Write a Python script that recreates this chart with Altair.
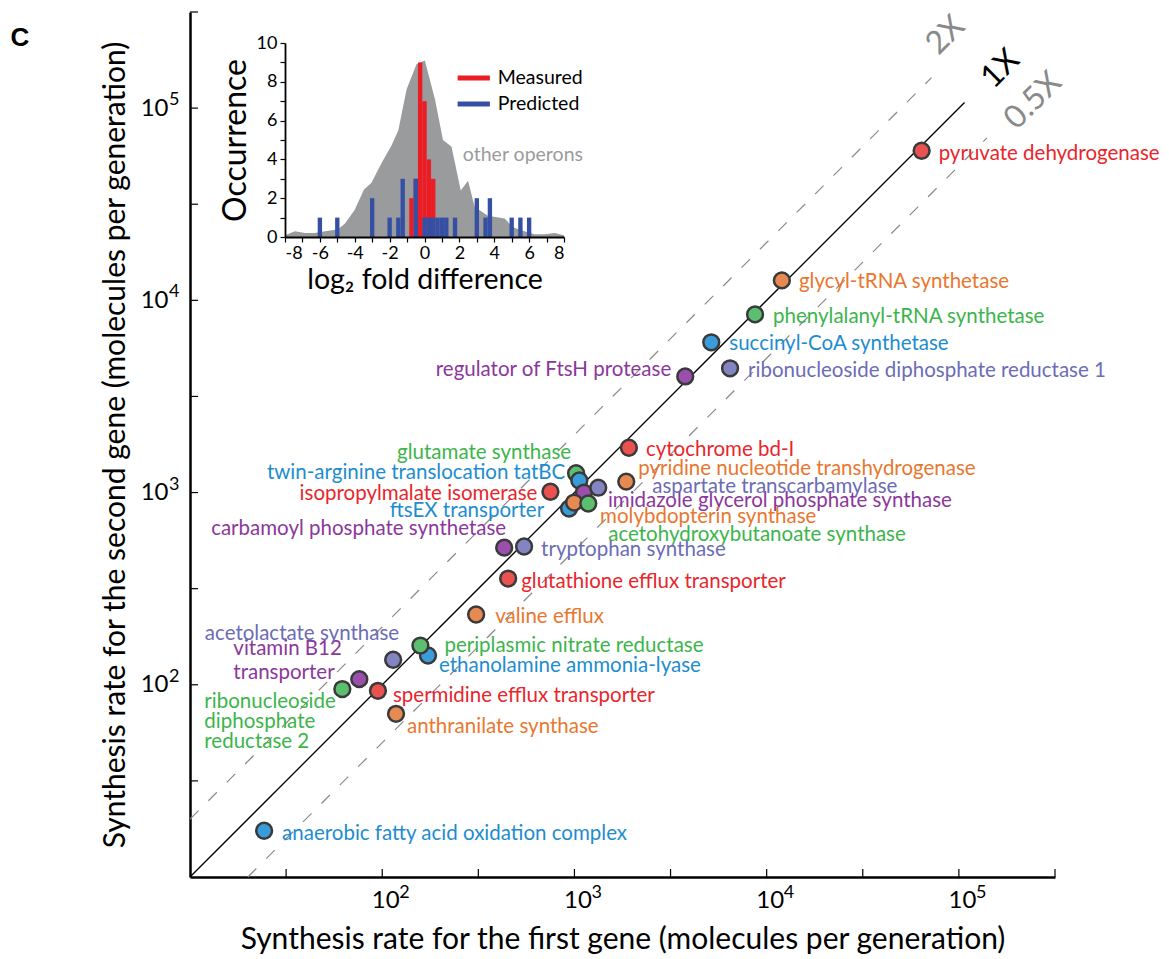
import altair as alt
import pandas as pd

# ---------------- main scatter data ----------------
operons = [
    "pyruvate dehydrogenase", "glycyl-tRNA synthetase", "phenylalanyl-tRNA synthetase",
    "succinyl-CoA synthetase", "regulator of FtsH protease", "ribonucleoside diphosphate reductase 1",
    "cytochrome bd-I", "glutamate synthase", "twin-arginine translocation tatBC",
    "isopropylmalate isomerase", "pyridine nucleotide transhydrogenase",
    "imidazole glycerol phosphate synthase", "aspartate transcarbamylase",
    "ftsEX transporter", "molybdopterin synthase", "acetohydroxybutanoate synthase",
    "carbamoyl phosphate synthetase", "tryptophan synthase", "glutathione efflux transporter",
    "valine efflux", "acetolactate synthase", "ethanolamine ammonia-lyase",
    "periplasmic nitrate reductase", "ribonucleoside diphosphate reductase 2",
    "vitamin B12 transporter", "spermidine efflux transporter", "anthranilate synthase",
    "anaerobic fatty acid oxidation complex",
]
first_gene = [64000, 12000, 8700, 5150, 3770, 6450, 1920, 1020, 1060, 750, 1860, 1120, 1330,
              938, 996, 1180, 431, 547, 452, 308, 114, 173, 158, 62, 76, 95, 118, 24.3]
second_gene = [60000, 12700, 8450, 6050, 4020, 4430, 1710, 1260, 1155, 1010, 1140, 1000, 1060,
               826, 887, 877, 517, 524, 357, 232, 135, 142, 160, 95, 107, 93, 70.6, 17.4]
colour_group = ["red", "orange", "green", "blue", "purple", "lavender", "red", "green", "blue",
                "red", "orange", "purple", "lavender", "blue", "orange", "green", "purple",
                "lavender", "red", "orange", "lavender", "blue", "green", "green", "purple",
                "red", "orange", "blue"]
label_lines = [
    ["pyruvate dehydrogenase"], ["glycyl-tRNA synthetase"], ["phenylalanyl-tRNA synthetase"],
    ["succinyl-CoA synthetase"], ["regulator of FtsH protease"],
    ["ribonucleoside diphosphate reductase 1"], ["cytochrome bd-I"], ["glutamate synthase"],
    ["twin-arginine translocation tatBC"], ["isopropylmalate isomerase"],
    ["pyridine nucleotide transhydrogenase"], ["imidazole glycerol phosphate synthase"],
    ["aspartate transcarbamylase"], ["ftsEX transporter"], ["molybdopterin synthase"],
    ["acetohydroxybutanoate synthase"], ["carbamoyl phosphate synthetase"],
    ["tryptophan synthase"], ["glutathione efflux transporter"], ["valine efflux"],
    ["acetolactate synthase"], ["ethanolamine ammonia-lyase"], ["periplasmic nitrate reductase"],
    ["ribonucleoside", "diphosphate", "reductase 2"], ["vitamin B12", "transporter"],
    ["spermidine efflux transporter"], ["anthranilate synthase"],
    ["anaerobic fatty acid oxidation complex"],
]

# label layout (pixel offsets from the point, alignment)
label_align = ["left", "left", "left", "left", "right", "left", "left", "right", "right", "right",
               "left", "left", "left", "right", "left", "left", "right", "left", "left", "left",
               "right", "left", "left", "left", "left", "left", "left", "left"]
label_dx = [17, 17, 18, 18, -14, 18, 17, -5, -14, -13, 12, 24, 54, -25, 26, 20, 2, 17, 13, 19,
            6, 11, 24, -138, -126, 15, 11, 18]
label_dy = [[3], [2], [3], [2], [-6], [3], [2], [-20], [-8], [2], [-13], [8], [-1], [2], [14],
            [31], [-19], [3], [3], [2], [-26], [10], [0], [13, 33, 53], [-30, -6], [5], [13], [3]]

# reference lines (fold ratios)
ref_line = ["1X", "1X", "2X", "2X", "0.5X", "0.5X"]
ref_x = [10, 107000, 10, 72000, 20, 140000]
ref_y = [10, 107000, 20, 144000, 10, 70000]
ref_label = ["2X", "1X", "0.5X"]
ref_label_x = [10 ** 4.93, 10 ** 5.215, 10 ** 5.385]
ref_label_y = [10 ** 5.38, 10 ** 5.205, 10 ** 5.04]

axis_ticks = [10 ** 1.5, 100, 10 ** 2.5, 1000, 10 ** 3.5, 10000, 10 ** 4.5, 100000, 10 ** 5.5]
decade_values = [100, 1000, 10000, 100000]
decade_exp = ["2", "3", "4", "5"]

# ---------------- inset histogram data ----------------
other_x = [-8, -7.43, -6.85, -6.3, -5.7, -4.95, -4.56, -4.0, -3.47, -3.04, -2.47, -1.9, -1.5,
           -1.03, -0.46, 0.02, 0.6, 1.06, 1.55, 2.08, 2.5, 2.88, 3.64, 4.6, 5.07, 5.55, 6.3,
           6.9, 7.46, 8]
other_occ = [0.09, 0.3, 0.2, 0.2, 0.3, 0.4, 0.7, 1.4, 2.45, 2.8, 3.8, 4.7, 5.5, 7.6, 8.9, 9.1,
             7.1, 5.0, 4.65, 2.4, 2.9, 1.55, 1.1, 0.95, 0.5, 0.35, 0.14, 0.14, 0.2, 0.09]
measured_lo = [-0.875, -0.625, -0.375, -0.125, 0.125, 0.375]
measured_hi = [-0.625, -0.375, -0.125, 0.125, 0.375, 0.625]
measured_n = [2, 3, 9, 7, 4, 3]
predicted_lo = [-6.125, -5.125, -3.125, -2.125, -1.625, -1.375, -0.625, -0.125, 0.125, 0.375,
                0.625, 0.875, 1.125, 1.625, 2.875, 3.375, 3.625, 4.875, 5.375, 5.875]
predicted_hi = [-5.875, -4.875, -2.875, -1.875, -1.375, -1.125, -0.375, 0.125, 0.375, 0.625,
                0.875, 1.125, 1.375, 1.875, 3.125, 3.625, 3.875, 5.125, 5.625, 6.125]
predicted_n = [1, 1, 2, 1, 1, 3, 3, 1, 1, 1, 1, 1, 1, 1, 2, 1, 2, 1, 1, 1]
legend_names = ["Measured", "Predicted"]
legend_y = [8.2, 6.85]

# ---------------- styling ----------------
W, H = 865, 865
DEC = W / 4.5  # pixels per decade
FONT = "Lato"
groups = ["red", "orange", "green", "blue", "lavender", "purple"]
text_colors = ["#E8262C", "#E9772F", "#3CB54B", "#1D8DCF", "#6C6CB6", "#8C379C"]
fill_colors = ["#E9524F", "#E68A52", "#5CBE6F", "#3A9DDA", "#8584C3", "#9B4FAC"]

pts = pd.DataFrame({"name": operons, "x": first_gene, "y": second_gene, "grp": colour_group,
                    "order": list(range(len(operons)))})

rows = []
for i, lines in enumerate(label_lines):
    for line, dy in zip(lines, label_dy[i]):
        rows.append({
            "text": line,
            "grp": colour_group[i],
            "align": label_align[i],
            "lx": first_gene[i] * 10 ** (label_dx[i] / DEC),
            "ly": second_gene[i] * 10 ** (-dy / DEC),
        })
labels = pd.DataFrame(rows)

refs = pd.DataFrame({"line": ref_line, "x": ref_x, "y": ref_y})
ref_text = pd.DataFrame({"t": ref_label, "x": ref_label_x, "y": ref_label_y})
ticks_df = pd.DataFrame({"v": axis_ticks})
exp_df = pd.DataFrame({"v": decade_values, "e": decade_exp})


def xs():
    return alt.Scale(type="log", domain=[10, 10 ** 5.5], nice=False)


def ys():
    return alt.Scale(type="log", domain=[10, 10 ** 5.5], nice=False)


fill_scale = alt.Scale(domain=groups, range=fill_colors)
text_scale = alt.Scale(domain=groups, range=text_colors)

x_axis = alt.Axis(orient="bottom", values=decade_values, ticks=False, grid=False,
                  domainColor="black", domainWidth=2.5, labelExpr="'10'",
                  labelFont=FONT, labelFontSize=24, labelColor="black", labelPadding=11,
                  labelOffset=3,
                  title="Synthesis rate for the first gene (molecules per generation)",
                  titleFont=FONT, titleFontSize=30, titleFontWeight="normal",
                  titleColor="black", titlePadding=12, labelFlush=False)
y_axis = alt.Axis(orient="left", values=decade_values, ticks=False, grid=False,
                  domainColor="black", domainWidth=2.5, labelExpr="'10'",
                  labelFont=FONT, labelFontSize=24, labelColor="black", labelPadding=22,
                  title="Synthesis rate for the second gene (molecules per generation)",
                  titleFont=FONT, titleFontSize=30, titleFontWeight="normal",
                  titleColor="black", titlePadding=10, labelFlush=False)

XN = lambda f: alt.X(f, scale=xs(), axis=None)
YN = lambda f: alt.Y(f, scale=ys(), axis=None)

base_ref = alt.Chart(refs)
solid = base_ref.transform_filter("datum.line == '1X'").mark_line(
    color="black", strokeWidth=1.3).encode(x=XN("x:Q"), y=YN("y:Q"), detail="line:N")
dashed = base_ref.transform_filter("datum.line != '1X'").mark_line(
    color="#8A8A8A", strokeWidth=1.2, strokeDash=[12, 14]).encode(
    x=XN("x:Q"), y=YN("y:Q"), detail="line:N")

ref_black = alt.Chart(ref_text).transform_filter("datum.t == '1X'").mark_text(
    font=FONT, fontSize=32, angle=315, color="black").encode(x=XN("x:Q"), y=YN("y:Q"), text="t:N")
ref_gray = alt.Chart(ref_text).transform_filter("datum.t != '1X'").mark_text(
    font=FONT, fontSize=32, angle=315, color="#8A8A8A").encode(x=XN("x:Q"), y=YN("y:Q"), text="t:N")

circles = alt.Chart(pts).mark_circle(size=250, opacity=1, stroke="#3A3A3A",
                                     strokeWidth=2.5).encode(
    x=alt.X("x:Q", scale=xs(), axis=x_axis), y=alt.Y("y:Q", scale=ys(), axis=y_axis),
    fill=alt.Fill("grp:N", scale=fill_scale, legend=None), order="order:Q")


def label_layer(al):
    return alt.Chart(labels).transform_filter(f"datum.align == '{al}'").mark_text(
        align=al, baseline="middle", font=FONT, fontSize=20.5).encode(
        x=XN("lx:Q"), y=YN("ly:Q"),
        text="text:N", color=alt.Color("grp:N", scale=text_scale, legend=None))


xticks = alt.Chart(ticks_df).mark_rule(color="black", strokeWidth=1.2).encode(
    x=XN("v:Q"), y=alt.value(H - 8), y2=alt.value(H))
yticks = alt.Chart(ticks_df).mark_rule(color="black", strokeWidth=1.2).encode(
    y=YN("v:Q"), x=alt.value(0), x2=alt.value(8))

# exponents of the decade labels
x_exp = alt.Chart(exp_df).mark_text(align="left", baseline="alphabetic", font=FONT,
                                    fontSize=18, dx=17, color="black").encode(
    x=XN("v:Q"), y=alt.value(H + 21), text="e:N")
y_exp = alt.Chart(exp_df).mark_text(align="left", baseline="alphabetic", font=FONT,
                                    fontSize=18, dy=-3, color="black").encode(
    y=YN("v:Q"), x=alt.value(-21), text="e:N")

panel = alt.Chart(pd.DataFrame({"t": ["C"]})).mark_text(
    font="Liberation Sans", fontSize=26, fontWeight="bold", align="center",
    baseline="middle").encode(text="t:N", x=alt.value(-170), y=alt.value(26))

# ---------------- inset ----------------
def ix():
    return alt.Scale(domain=[-8, 8], range=[95, 374], nice=False, zero=False)


def iy():
    return alt.Scale(domain=[0, 10], range=[225, 31], nice=False, zero=False)


inset_x_axis = alt.Axis(orient="bottom", offset=-(H - 225), values=list(range(-8, 9)),
                        labelExpr="datum.value % 2 == 0 ? '' + datum.value : ''",
                        labelOverlap=False, tickSize=5, tickColor="black", tickWidth=1.2,
                        domainColor="black", domainWidth=1.8, grid=False, zindex=2,
                        labelFont=FONT, labelFontSize=18, labelColor="black", labelPadding=2,
                        title="log₂ fold difference", titleFont=FONT, titleFontSize=28.5,
                        titleFontWeight="normal", titleColor="black", titlePadding=3)
inset_y_axis = alt.Axis(orient="left", offset=-95, values=list(range(0, 11)),
                        labelExpr="datum.value % 2 == 0 ? '' + datum.value : ''",
                        labelOverlap=False, tickSize=5, tickColor="black", tickWidth=1.2,
                        domainColor="black", domainWidth=1.8, grid=False, zindex=2,
                        labelFont=FONT, labelFontSize=18, labelColor="black", labelPadding=3,
                        title="Occurrence", titleFont=FONT, titleFontSize=32,
                        titleFontWeight="normal", titleColor="black", titlePadding=4)

IXN = lambda f: alt.X(f, scale=ix(), axis=None)
IYN = lambda f: alt.Y(f, scale=iy(), axis=None)

other = alt.Chart(pd.DataFrame({"x": other_x, "n": other_occ})).mark_area(
    color="#9A9B9D", opacity=1).encode(
    x=alt.X("x:Q", scale=ix(), axis=inset_x_axis), y=alt.Y("n:Q", scale=iy(), axis=inset_y_axis),
    y2=alt.datum(0))
meas = alt.Chart(pd.DataFrame({"lo": measured_lo, "hi": measured_hi, "n": measured_n})).mark_rect(
    color="#EC1C24").encode(x=IXN("lo:Q"), x2="hi:Q", y=IYN("n:Q"), y2=alt.datum(0))
pred = alt.Chart(pd.DataFrame({"lo": predicted_lo, "hi": predicted_hi, "n": predicted_n})).mark_rect(
    color="#3550A3").encode(x=IXN("lo:Q"), x2="hi:Q", y=IYN("n:Q"), y2=alt.datum(0))

leg_df = pd.DataFrame({"name": legend_names, "y": legend_y, "x0": [1.9, 1.9], "x1": [3.75, 3.75],
                       "tx": [4.2, 4.2]})
leg_lines = alt.Chart(leg_df).mark_rule(strokeWidth=5).encode(
    x=IXN("x0:Q"), x2="x1:Q", y=IYN("y:Q"),
    color=alt.Color("name:N", scale=alt.Scale(domain=legend_names, range=["#EC1C24", "#3550A3"]),
                    legend=None))
leg_text = alt.Chart(leg_df).mark_text(align="left", baseline="middle", font=FONT,
                                       fontSize=19.5, color="black").encode(
    x=IXN("tx:Q"), y=IYN("y:Q"), text="name:N")
other_text = alt.Chart(pd.DataFrame({"t": ["other operons"], "x": [2.2], "y": [4.25]})).mark_text(
    align="left", baseline="middle", font=FONT, fontSize=19.5, color="#9A9B9D").encode(
    x=IXN("x:Q"), y=IYN("y:Q"), text="t:N")

chart = alt.layer(
    solid, dashed, ref_black, ref_gray, xticks, yticks, circles,
    label_layer("left"), label_layer("right"), x_exp, y_exp, panel,
    other, meas, pred, leg_lines, leg_text, other_text,
).resolve_scale(
    x="independent", y="independent", color="independent"
).properties(
    width=W, height=H,
    autosize=alt.AutoSizeParams(type="none"),
    padding={"left": 190, "top": 12, "right": 1169 - 190 - W, "bottom": 959 - 12 - H},
).configure(background="white").configure_view(stroke=None)

chart.save("out.html", embed_options={"renderer": "svg", "actions": False})
